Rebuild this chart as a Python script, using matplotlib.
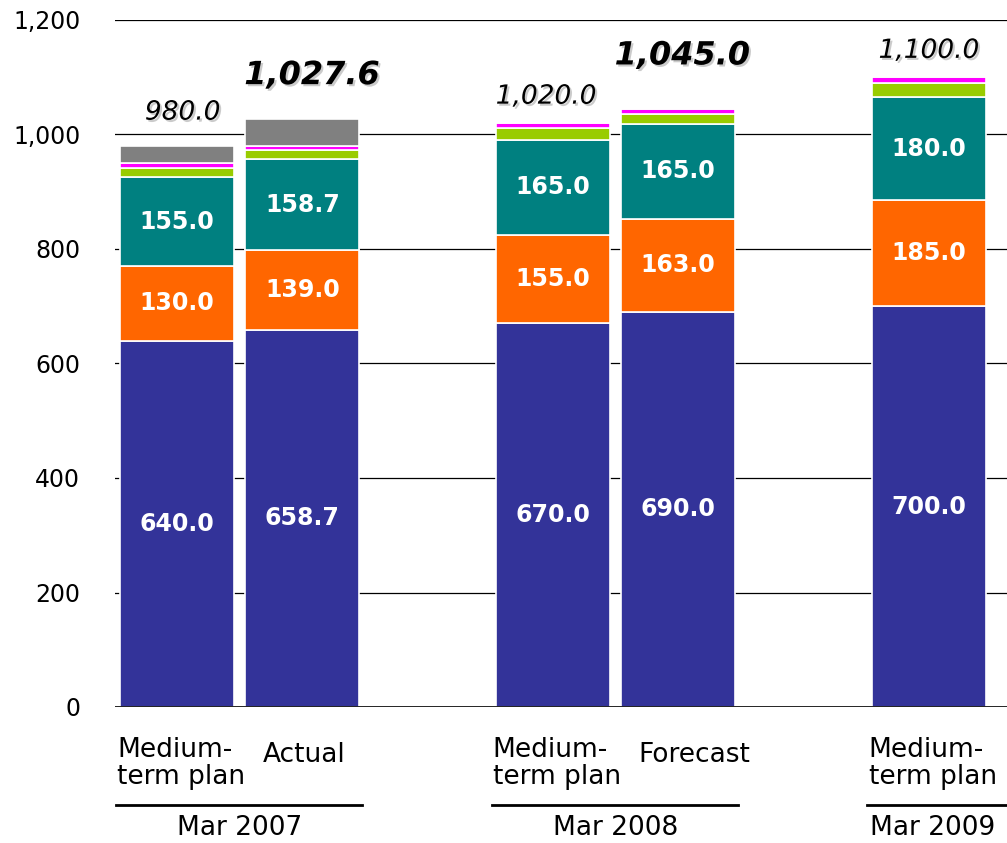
import matplotlib
matplotlib.use("Agg")
import matplotlib.pyplot as plt
import matplotlib.patheffects as pe
import numpy as np

# ---- data ----
bar_names = ["Medium-\nterm plan", "Actual", "Medium-\nterm plan", "Forecast", "Medium-\nterm plan"]
group_names = ["Mar 2007", "Mar 2008", "Mar 2009"]
blue = [640.0, 658.7, 670.0, 690.0, 700.0]
orange = [130.0, 139.0, 155.0, 163.0, 185.0]
teal = [155.0, 158.7, 165.0, 165.0, 180.0]
green = [17.0, 17.0, 22.0, 18.0, 25.0]
magenta = [8.0, 6.0, 8.0, 9.0, 10.0]
gray = [30.0, 48.2, 0.0, 0.0, 0.0]
totals = [980.0, 1027.6, 1020.0, 1045.0, 1100.0]
total_labels = ["980.0", "1,027.6", "1,020.0", "1,045.0", "1,100.0"]
yticks = [0, 200, 400, 600, 800, 1000, 1200]
ytick_labels = ["0", "200", "400", "600", "800", "1,000", "1,200"]

# ---- layout ----
pos = np.array([0, 1, 3, 4, 6])
groups = [(0, 1), (3, 4), (6, 6)]
colors = ["#333399", "#FF6600", "#008080", "#99CC00", "#FF00FF", "#808080"]
series = [blue, orange, teal, green, magenta, gray]
labelled = [True, True, True, False, False, False]
bold_total = [False, True, False, True, False]
total_off = [(4, 24), (7, 31), (-5, 19), (3, 38), (0, 19)]

fig = plt.figure(figsize=(10.07, 8.43), dpi=100)
ax = fig.add_axes([115 / 1007, 1 - 707 / 843, 1 - 115 / 1007, (707 - 20) / 843])
ax.set_xlim(-0.495, 6.624)
ax.set_ylim(0, 1200)

for y in yticks[1:]:
    ax.axhline(y, color="black", lw=0.9, zorder=0)
ax.axhline(0, color="black", lw=1.2, zorder=3)

bottom = np.zeros(len(pos))
for vals, c, lab in zip(series, colors, labelled):
    vals = np.array(vals)
    ax.bar(pos, vals, width=0.91, bottom=bottom, color=c, edgecolor="white",
           linewidth=1.2, zorder=2)
    if lab:
        for x, b, v in zip(pos, bottom, vals):
            ax.text(x, b + v / 2, f"{v:.1f}", color="white", fontsize=17,
                    fontweight="bold", ha="center", va="center", zorder=4)
    bottom = bottom + vals

shadow = [pe.withSimplePatchShadow(offset=(1.5, -1.5), shadow_rgbFace="#999999", alpha=0.5)]
for x, t, s, b, off in zip(pos, totals, total_labels, bold_total, total_off):
    ax.annotate(s, (x, t), xytext=off, textcoords="offset points",
                ha="center", va="center", style="italic",
                fontweight="bold" if b else "normal",
                fontsize=23 if b else 19, path_effects=shadow,
                annotation_clip=False, zorder=5)

ax.set_yticks(yticks)
ax.set_yticklabels(ytick_labels, fontsize=17)
ax.tick_params(axis="y", length=0, pad=25)
ax.set_xticks([])
for sp in ax.spines.values():
    sp.set_visible(False)

# category labels
for x, name in zip(pos, bar_names):
    if "\n" in name:
        ax.text(x - 0.48, -52, name, ha="left", va="top", fontsize=19,
                linespacing=1.05, clip_on=False)
    else:
        ax.text(x - 0.315, -83, name, ha="left", va="center", fontsize=19,
                clip_on=False)

# group lines and labels
for (a, b), g in zip(groups, group_names):
    x0 = a - 0.49
    x1 = b + 0.48 if a != b else 6.7
    ax.plot([x0, x1], [-172, -172], color="black", lw=2, clip_on=False)
    if a != b:
        ax.text((a + b) / 2, -212, g, ha="center", va="center", fontsize=19,
                clip_on=False)
    else:
        ax.text(a - 0.47, -212, g, ha="left", va="center", fontsize=19,
                clip_on=False)

fig.savefig("out.png", dpi=100)
